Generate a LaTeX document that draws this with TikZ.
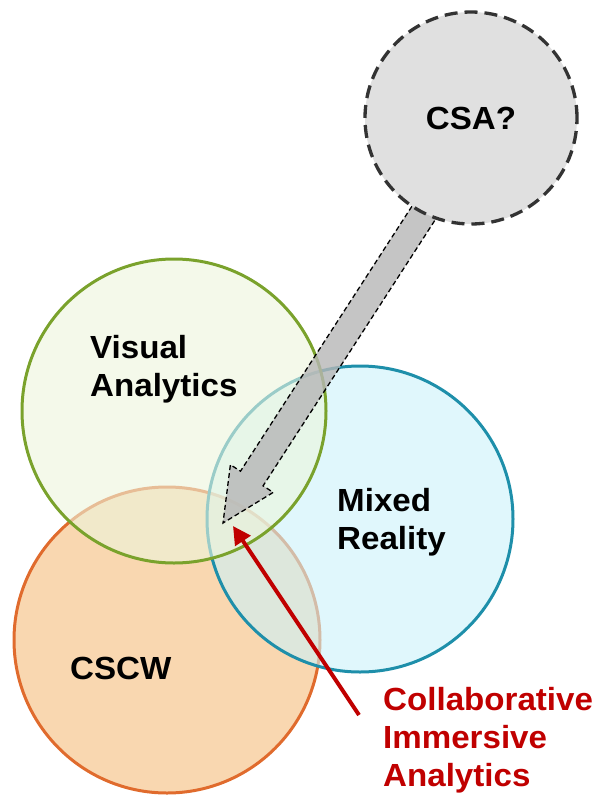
\documentclass[tikz,border=0pt]{standalone}
\usepackage{fontspec}
\setmainfont{Liberation Sans}[FakeStretch=1.035]
\usetikzlibrary{arrows.meta}
\definecolor{valine}{RGB}{122,162,44}
\definecolor{vafill}{RGB}{237,245,220}
\definecolor{mrline}{RGB}{30,143,170}
\definecolor{mrfill}{RGB}{203,242,250}
\definecolor{cwline}{RGB}{224,107,45}
\definecolor{cwfill}{RGB}{249,215,176}
\definecolor{csafill}{RGB}{224,224,224}
\definecolor{csaline}{RGB}{51,51,51}
\definecolor{arrowfill}{RGB}{182,182,182}
\definecolor{cia}{RGB}{192,0,0}
\begin{document}
\begin{tikzpicture}[x=1pt,y=-1pt,
  set/.style={circle, inner sep=0pt, line width=3pt, fill opacity=0.6, draw opacity=1},
  lbl/.style={font=\bfseries\fontsize{32}{38}\selectfont, inner sep=0pt, align=left, anchor=north west},
]
\useasboundingbox (0,0) rectangle (595,798);
% sets
\node[set, draw=cwline, fill=cwfill, fill opacity=1, minimum size=306pt] (cscw) at (167,640) {};
\node[set, draw=mrline, fill=mrfill, minimum size=306pt] (mr) at (360,519) {};
\node[set, draw=valine, fill=vafill, minimum size=304pt] (va) at (174,411) {};
% block arrow from CSA
\draw[line width=1.3pt, dash pattern=on 5pt off 3pt, fill=arrowfill, fill opacity=0.8]
  (447.7,200.5) -- (263.1,485.8) -- (273.2,492.4) -- (223,523) -- (230.4,464.7)
  -- (240.5,471.2) -- (425.1,185.9) -- cycle;
% CSA circle
\node[circle, inner sep=0pt, minimum size=212pt, fill=csafill, draw=csaline,
  line width=3.3pt, dash pattern=on 13pt off 7pt,
  font=\bfseries\fontsize{32}{38}\selectfont] (csa) at (471,118) {CSA?};
% red arrow
\coordinate (redtail) at (359,715);
\coordinate (redtip) at (233,526);
\draw[cia, line width=4pt, -{Triangle[length=18pt,width=18pt]}] (redtail) -- (redtip);
% labels
\node[lbl] (vatext) at (90,335) {Visual\\Analytics};
\node[lbl] (mrtext) at (337,488) {Mixed\\Reality};
\node[lbl] (cwtext) at (70,657) {CSCW};
\node[lbl, text=cia] (ciatext) at (383,687) {Collaborative\\Immersive\\Analytics};
\end{tikzpicture}
\end{document}
